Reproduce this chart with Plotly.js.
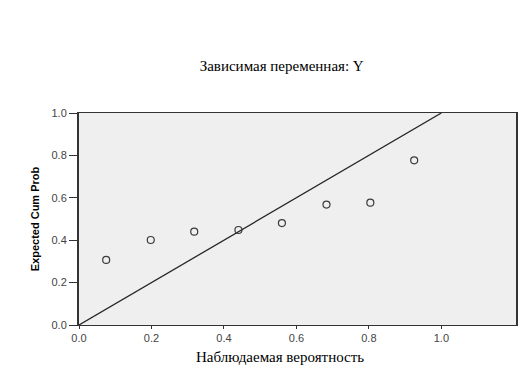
<!DOCTYPE html>
<html><head><meta charset="utf-8">
<script src="https://cdn.plot.ly/plotly-3.0.1.min.js"></script>
<style>html,body{margin:0;padding:0;background:#fff}#c{width:531px;height:374px}</style>
</head><body><div id="c"></div>
<script>
var observed = [0.075, 0.198, 0.318, 0.440, 0.560, 0.683, 0.804, 0.925];
var expected = [0.307, 0.401, 0.440, 0.448, 0.481, 0.568, 0.577, 0.777];
var refX = [0, 1];
var refY = [0, 1];
var tickVals = [0, 0.2, 0.4, 0.6, 0.8, 1.0];
var tickText = ['0.0', '0.2', '0.4', '0.6', '0.8', '1.0'];

var serif = 'Liberation Serif, Times New Roman, serif';
var sans = 'Liberation Sans, Arial, sans-serif';
var traces = [
  {x: refX, y: refY, mode: 'lines', line: {color: '#262626', width: 1.3}, hoverinfo: 'skip'},
  {x: observed, y: expected, mode: 'markers',
   marker: {symbol: 'circle-open', size: 7, color: '#3a3a3a', line: {width: 1.2, color: '#3a3a3a'}}}
];
var layout = {
  width: 531, height: 374, showlegend: false,
  margin: {l: 79, r: 15, t: 113, b: 49, pad: 0},
  paper_bgcolor: '#ffffff', plot_bgcolor: '#efefef',
  title: {text: 'Зависимая переменная: Y', x: 0.5305, xanchor: 'center', y: 0.825, yanchor: 'middle',
          font: {family: serif, size: 15, color: '#000'}},
  annotations: [
    {text: 'Наблюдаемая вероятность', xref: 'paper', yref: 'paper', x: (279.5 - 79) / 437, y: -32 / 212,
     xanchor: 'center', yanchor: 'middle', showarrow: false,
     font: {family: serif, size: 15, color: '#000'}}
  ],
  xaxis: {range: [0, 1.206], tickvals: tickVals, ticktext: tickText, showgrid: false, zeroline: false,
          showline: true, linecolor: '#333', linewidth: 1, mirror: true,
          ticks: 'outside', ticklen: 3, tickcolor: '#333', tickwidth: 1,
          tickfont: {family: sans, size: 11, color: '#444'}},
  yaxis: {range: [0, 1], tickvals: tickVals, ticktext: tickText, showgrid: false, zeroline: false,
          showline: true, linecolor: '#333', linewidth: 2, mirror: true,
          ticks: 'outside', ticklen: 8, tickcolor: '#333', tickwidth: 1,
          tickfont: {family: sans, size: 11, color: '#444'},
          title: {text: '<b>Expected Cum Prob</b>', standoff: 10,
                  font: {family: sans, size: 11, color: '#000'}}}
};
Plotly.newPlot('c', traces, layout, {displayModeBar: false, staticPlot: true});
</script></body></html>
